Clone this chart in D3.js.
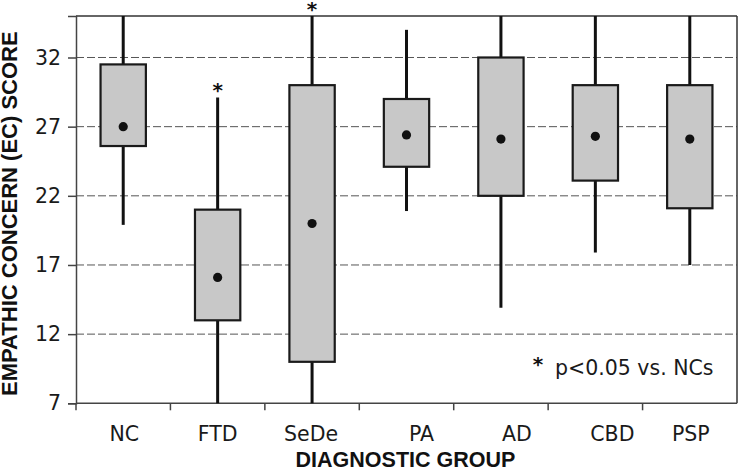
<!DOCTYPE html>
<html>
<head>
<meta charset="utf-8">
<script src="https://cdn.jsdelivr.net/npm/d3@7"></script>
<style>
  html, body { margin: 0; padding: 0; background: #fff; }
  svg { display: block; }
</style>
</head>
<body>
<svg id="chart" width="738" height="473"></svg>
<script>
// ---- data ----
const categories   = ["NC", "FTD", "SeDe", "PA", "AD", "CBD", "PSP"];
const whiskerLow   = [19.9, 7,    7,    20.9, 13.9, 17.9, 17];
const boxLow       = [25.6, 13,   10,   24.1, 22,   23.1, 21.1];
const meanValue    = [27,   16.1, 20,   26.4, 26.1, 26.3, 26.1];
const boxHigh      = [31.5, 21,   30,   29,   32,   30,   30];
const whiskerHigh  = [35,   29.1, 35,   34,   35,   35,   35];
const significant  = [false, true, true, false, false, false, false];
const yTickValues  = [7, 12, 17, 22, 27, 32];
const yDomain      = [7, 35];
const yTitle       = "EMPATHIC CONCERN (EC) SCORE";
const xTitle       = "DIAGNOSTIC GROUP";
const legendText   = "p<0.05 vs. NCs";

// ---- layout ----
const L = 76, R = 737, T = 16, B = 403.3;
const svg = d3.select("#chart");
const regFont = "'DejaVu Sans', sans-serif";
const boldFont = "'Liberation Sans', Arial, sans-serif";
const regSize = 20.5;

const x = d3.scaleBand().domain(categories).range([L, R]).paddingInner(0).paddingOuter(0);
const y = d3.scaleLinear().domain(yDomain).range([B, T]);
const boxW = x.bandwidth() * 0.48;

// gridlines
svg.append("g").selectAll("line")
  .data(yTickValues.filter(v => v !== yDomain[0]))
  .join("line")
  .attr("x1", L).attr("x2", R)
  .attr("y1", d => y(d)).attr("y2", d => y(d))
  .attr("stroke", "#555").attr("stroke-width", 1)
  .attr("stroke-dasharray", "8,3");

// frame (top and right)
svg.append("line").attr("x1", L).attr("x2", R).attr("y1", T).attr("y2", T)
  .attr("stroke", "#333").attr("stroke-width", 1.5);
svg.append("line").attr("x1", R).attr("x2", R).attr("y1", T).attr("y2", B)
  .attr("stroke", "#333").attr("stroke-width", 1.5);

// y axis
const yAxis = svg.append("g").attr("transform", `translate(${L},0)`)
  .call(d3.axisLeft(y).tickValues(yTickValues).tickSize(8).tickPadding(7).tickFormat(d3.format("d")));
yAxis.select(".domain").attr("stroke", "#444").attr("stroke-width", 1.5);
yAxis.selectAll(".tick line").attr("stroke", "#444").attr("stroke-width", 1.5);
yAxis.selectAll(".tick text")
  .attr("font-family", regFont).attr("font-size", regSize).attr("fill", "#1a1a1a");

// x axis: baseline + boundary ticks
const edges = categories.map(c => x(c)).concat([R]);
svg.append("line").attr("x1", L).attr("x2", R).attr("y1", B).attr("y2", B)
  .attr("stroke", "#444").attr("stroke-width", 1.5);
svg.append("g").selectAll("line").data(edges).join("line")
  .attr("x1", d => d).attr("x2", d => d)
  .attr("y1", B).attr("y2", d => d === R ? B : B + 7)
  .attr("stroke", "#444").attr("stroke-width", 1.5);

// category labels
const labelShift = { NC: 1, FTD: 0, SeDe: -1, PA: 15, AD: 16, CBD: 17, PSP: 1 };
const xAxis = svg.append("g").attr("transform", `translate(0,${B})`)
  .call(d3.axisBottom(x).tickSize(0).tickPadding(0));
xAxis.select(".domain").remove();
xAxis.selectAll(".tick text")
  .attr("font-family", regFont).attr("font-size", regSize).attr("fill", "#1a1a1a")
  .attr("dy", null).attr("y", 37.6)
  .attr("x", d => labelShift[d]);

// boxes
const groups = svg.append("g").selectAll("g").data(categories).join("g")
  .attr("transform", d => `translate(${x(d) + x.bandwidth() / 2},0)`);

groups.append("line")
  .attr("x1", 0).attr("x2", 0)
  .attr("y1", (d, i) => y(whiskerLow[i]))
  .attr("y2", (d, i) => y(whiskerHigh[i]))
  .attr("stroke", "#111").attr("stroke-width", 3);

groups.append("rect")
  .attr("x", -boxW / 2).attr("width", boxW)
  .attr("y", (d, i) => y(boxHigh[i]))
  .attr("height", (d, i) => y(boxLow[i]) - y(boxHigh[i]))
  .attr("fill", "#c8c8c8").attr("stroke", "#1a1a1a").attr("stroke-width", 2.2);

groups.append("circle")
  .attr("cx", 0).attr("cy", (d, i) => y(meanValue[i]))
  .attr("r", 4.6).attr("fill", "#111");

groups.filter((d, i) => significant[i]).append("text")
  .attr("x", 0)
  .attr("y", d => y(whiskerHigh[categories.indexOf(d)]) - 0.5)
  .attr("text-anchor", "middle")
  .attr("font-family", regFont).attr("font-weight", "bold").attr("font-size", 20)
  .attr("fill", "#111")
  .text("*");

// legend
svg.append("text").attr("x", 538).attr("y", 371)
  .attr("text-anchor", "middle")
  .attr("font-family", regFont).attr("font-weight", "bold").attr("font-size", 20)
  .attr("fill", "#111").text("*");
svg.append("text").attr("x", 555).attr("y", 375)
  .attr("font-family", regFont).attr("font-size", regSize).attr("fill", "#1a1a1a")
  .text(legendText);

// axis titles
svg.append("text")
  .attr("transform", `translate(17,${(T + B) / 2 + 4}) rotate(-90)`)
  .attr("text-anchor", "middle")
  .attr("font-family", boldFont).attr("font-weight", "bold").attr("font-size", 22)
  .attr("fill", "#111").text(yTitle);
svg.append("text")
  .attr("x", (L + R) / 2 - 1).attr("y", 466.5)
  .attr("text-anchor", "middle")
  .attr("font-family", boldFont).attr("font-weight", "bold").attr("font-size", 21.5)
  .attr("fill", "#111").text(xTitle);
</script>
</body>
</html>
